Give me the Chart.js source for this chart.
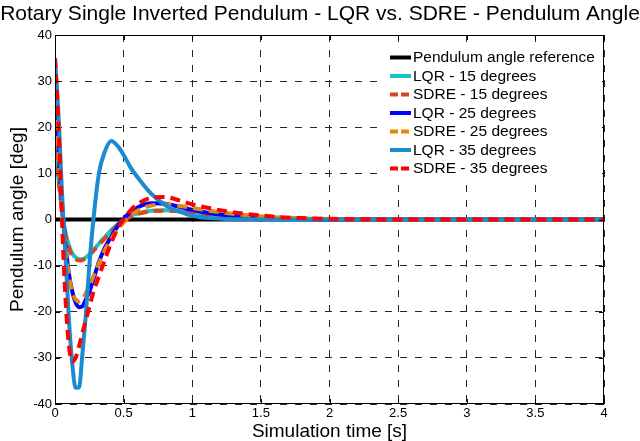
<!DOCTYPE html>
<html>
<head>
<meta charset="utf-8">
<script src="https://cdn.jsdelivr.net/npm/chart.js@4/dist/chart.umd.min.js"></script>
<style>
  html, body { margin: 0; padding: 0; background: #fff; }
  #myChart { display: block; }
</style>
</head>
<body>
<canvas id="myChart" width="640" height="441"></canvas>
<script>
// simulation time [s]
const time = [0, 0.015, 0.03, 0.045, 0.06, 0.08, 0.1, 0.125, 0.15, 0.175, 0.2, 0.225, 0.25, 0.28, 0.32, 0.36, 0.41, 0.46, 0.5, 0.55, 0.6, 0.7, 0.8, 0.9, 1.0, 1.1, 1.25, 1.4, 1.6, 1.8, 2.0, 2.5, 3, 3.5, 4];

// pendulum angle [deg]
const reference = time.map(() => 0);
const lqr15 = [15, 11.5, 7.5, 3.5, 0, -3.3, -5.5, -7.3, -8.2, -8.6, -8.6, -8.2, -7.6, -6.6, -5.2, -3.9, -2.3, -0.9, 0, 0.8, 1.3, 1.9, 2.0, 1.8, 1.4, 1.0, 0.6, 0.3, 0.1, 0, 0, 0, 0, 0, 0];
const sdre15 = [15, 11.5, 7.5, 3.5, -0.3, -3.8, -6, -7.8, -8.6, -8.9, -8.8, -8.3, -7.7, -6.8, -5.5, -4.2, -2.6, -1.2, -0.3, 0.6, 1.2, 1.8, 1.9, 1.8, 1.5, 1.2, 0.8, 0.5, 0.25, 0.1, 0.05, 0, 0, 0, 0];
const lqr25 = [25, 20, 13, 6, 0, -6.5, -11.5, -15.5, -18, -19, -18.8, -17.3, -15.7, -13, -9.2, -6.3, -3.7, -1.3, 0.2, 1.6, 2.6, 3.5, 3.4, 2.8, 2.1, 1.5, 0.9, 0.5, 0.2, 0.1, 0, 0, 0, 0, 0];
const sdre25 = [25, 19.5, 12.5, 5.5, -0.5, -7, -12, -15.5, -17.3, -17.8, -17.3, -16, -14.5, -12.3, -9.5, -6.8, -4.2, -2, -0.6, 0.8, 1.9, 3.0, 3.3, 3.0, 2.5, 2.0, 1.4, 0.9, 0.5, 0.25, 0.1, 0, 0, 0, 0];
const lqr35 = [35, 28, 20, 9.5, 0.5, -10, -21, -31, -36.5, -36.4, -29, -20.5, -10, 0, 10, 14.5, 17, 15.8, 14, 11.3, 9.2, 5.6, 3.2, 1.8, 0.8, 0.35, 0.1, 0.03, 0, 0, 0, 0, 0, 0, 0];
const sdre35 = [35, 27, 17, 5, -7, -19, -27, -30.8, -30, -27.5, -24.5, -21.8, -19, -15.7, -12.3, -9, -5, -1.8, 0.1, 2.0, 3.3, 4.7, 4.9, 4.2, 3.3, 2.6, 1.8, 1.2, 0.6, 0.3, 0.15, 0, 0, 0, 0];

const xTicks = [0, 0.5, 1, 1.5, 2, 2.5, 3, 3.5, 4];
const yTicks = [-40, -30, -20, -10, 0, 10, 20, 30, 40];

const FONT = "'Liberation Sans', Arial, Helvetica, sans-serif";
const GRID = "#262626";

const toPoints = (vals) => vals.map((v, i) => ({ x: time[i], y: v }));

const series = [
  { label: "Pendulum angle reference", data: reference, color: "#000000", dash: [] },
  { label: "LQR - 15 degrees", data: lqr15, color: "#1cc3c3", dash: [] },
  { label: "SDRE - 15 degrees", data: sdre15, color: "#d9481a", dash: [10, 6] },
  { label: "LQR - 25 degrees", data: lqr25, color: "#0000ff", dash: [] },
  { label: "SDRE - 25 degrees", data: sdre25, color: "#e08812", dash: [10, 6] },
  { label: "LQR - 35 degrees", data: lqr35, color: "#1b8bd0", dash: [] },
  { label: "SDRE - 35 degrees", data: sdre35, color: "#ff0000", dash: [10, 6] },
];

// box around plot + inward tick marks, like matlab axes
const boxPlugin = {
  id: "box",
  afterDraw(chart) {
    const { ctx, chartArea: a, scales } = chart;
    ctx.save();
    ctx.strokeStyle = "#000";
    ctx.lineWidth = 1;
    ctx.setLineDash([]);
    ctx.strokeRect(a.left + 0.5, a.top + 0.5, a.right - a.left - 1, a.bottom - a.top - 1);
    ctx.beginPath();
    xTicks.forEach((t) => {
      const px = Math.round(scales.x.getPixelForValue(t)) + 0.5;
      ctx.moveTo(px, a.bottom); ctx.lineTo(px, a.bottom - 5);
      ctx.moveTo(px, a.top); ctx.lineTo(px, a.top + 5);
    });
    yTicks.forEach((t) => {
      const py = Math.round(scales.y.getPixelForValue(t)) + 0.5;
      ctx.moveTo(a.left, py); ctx.lineTo(a.left + 5, py);
      ctx.moveTo(a.right, py); ctx.lineTo(a.right - 5, py);
    });
    ctx.stroke();
    ctx.restore();
  },
};

// legend inside the plot, white background, no frame
const legendPlugin = {
  id: "insideLegend",
  afterDraw(chart) {
    const { ctx } = chart;
    ctx.save();
    ctx.fillStyle = "#fff";
    ctx.fillRect(385, 46, 217, 133);
    ctx.font = "15.5px " + FONT;
    ctx.textBaseline = "middle";
    ctx.fillStyle = "#000";
    chart.data.datasets.forEach((ds, i) => {
      const y = 57.5 + i * 18.5;
      ctx.strokeStyle = ds.borderColor;
      ctx.lineWidth = 4;
      ctx.setLineDash(ds.borderDash.length ? [8, 3] : []);
      ctx.beginPath();
      ctx.moveTo(390, y);
      ctx.lineTo(411, y);
      ctx.stroke();
      ctx.fillText(ds.label, 413, y + 0.5);
    });
    ctx.restore();
  },
};

new Chart(document.getElementById("myChart").getContext("2d"), {
  type: "line",
  data: {
    datasets: series.map((s, i) => ({
      label: s.label,
      data: toPoints(s.data),
      borderColor: s.color,
      backgroundColor: s.color,
      borderWidth: 4,
      borderDash: s.dash,
      pointRadius: 0,
      cubicInterpolationMode: "monotone",
      fill: false,
      order: series.length - i,
    })),
  },
  options: {
    responsive: false,
    animation: false,
    devicePixelRatio: 1,
    layout: { padding: 0 },
    plugins: {
      legend: { display: false },
      tooltip: { enabled: false },
      title: {
        display: true,
        text: "Rotary Single Inverted Pendulum - LQR vs. SDRE - Pendulum Angle",
        color: "#000",
        font: { family: FONT, size: 21, weight: "normal", lineHeight: 1.2 },
        padding: { top: 2, bottom: 7.8 },
      },
    },
    scales: {
      x: {
        type: "linear",
        min: 0,
        max: 4,
        afterFit: (s) => { s.height = 37; },
        afterBuildTicks: (s) => { s.ticks = xTicks.map((v) => ({ value: v })); },
        ticks: {
          color: "#000",
          font: { family: FONT, size: 13 },
          padding: 2,
          maxRotation: 0,
          autoSkip: false,
          callback: (v) => String(v),
        },
        grid: { color: GRID, lineWidth: 1, drawTicks: false },
        border: { display: false, dash: [7, 8] },
        title: {
          display: true,
          text: "Simulation time [s]",
          color: "#000",
          font: { family: FONT, size: 19, lineHeight: 1 },
          padding: 0,
        },
      },
      y: {
        min: -40,
        max: 40,
        afterFit: (s) => { s.width = 55; },
        afterBuildTicks: (s) => { s.ticks = yTicks.map((v) => ({ value: v })); },
        ticks: {
          color: "#000",
          font: { family: FONT, size: 13 },
          padding: 3,
        },
        grid: { color: GRID, lineWidth: 1, drawTicks: false },
        border: { display: false, dash: [7, 8] },
        title: {
          display: true,
          text: "Pendulum angle [deg]",
          color: "#000",
          font: { family: FONT, size: 19, lineHeight: 1.2 },
          padding: { top: 6, bottom: 0 },
        },
      },
      // empty right axis, only keeps the right margin so the title stays centred
      yRight: {
        position: "right",
        min: -40,
        max: 40,
        afterFit: (s) => { s.width = 36; },
        ticks: { display: false },
        grid: { display: false },
        border: { display: false },
      },
    },
  },
  plugins: [boxPlugin, legendPlugin],
});
</script>
</body>
</html>
